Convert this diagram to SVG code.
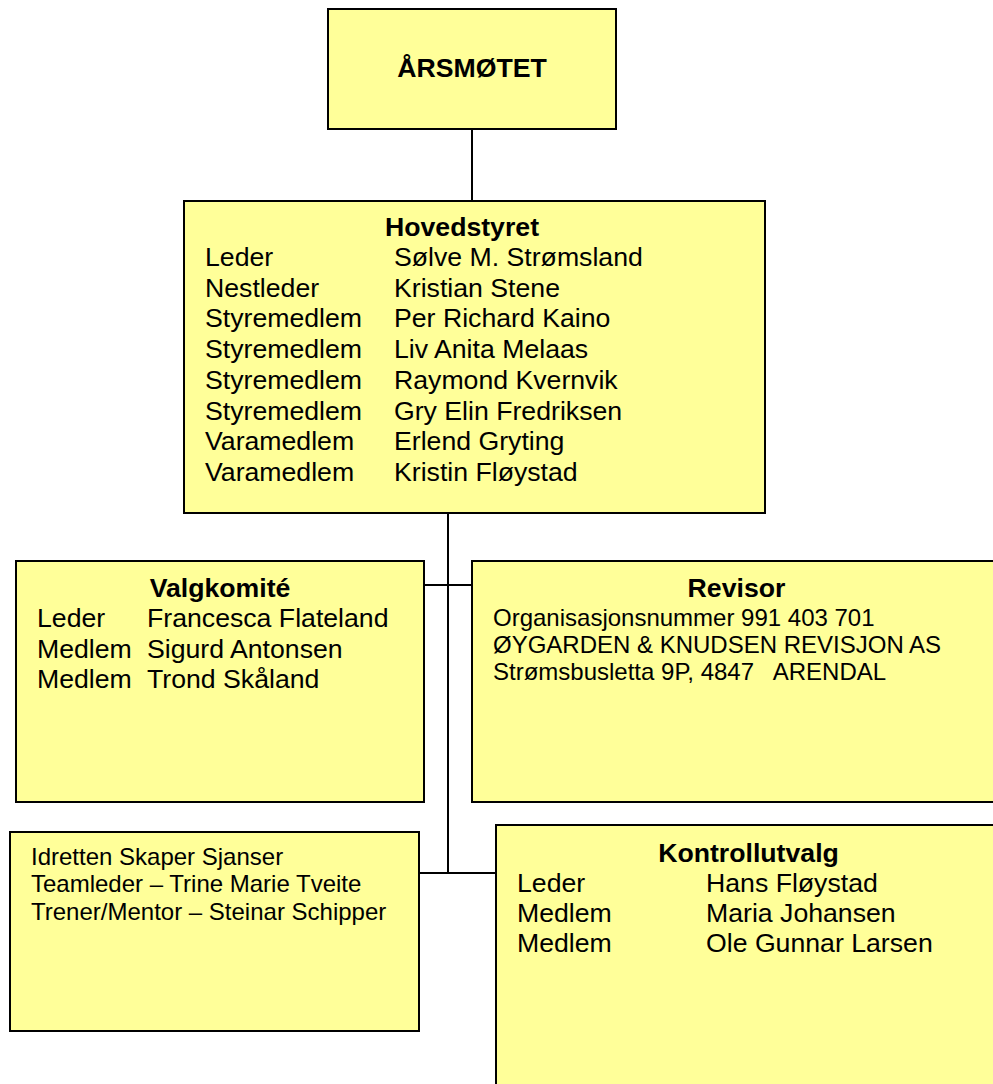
<svg xmlns="http://www.w3.org/2000/svg" width="993" height="1084" viewBox="0 0 993 1084">
<style>
.box{fill:#FFFF99;stroke:#000;stroke-width:2}
.t{font-family:"Liberation Sans",Arial,sans-serif;font-size:26.67px;fill:#000}
.s{font-family:"Liberation Sans",Arial,sans-serif;font-size:24px;fill:#000}
.b{font-weight:bold}
.c{text-anchor:middle}
.con{stroke:#000;stroke-width:2;fill:none}
</style>
<rect width="993" height="1084" fill="#fff"/>
<g id="connectors">
<line class="con" x1="472" y1="129" x2="472" y2="201"/>
<line class="con" x1="448" y1="513" x2="448" y2="873"/>
<line class="con" x1="424" y1="585" x2="472" y2="585"/>
<line class="con" x1="419" y1="873" x2="496" y2="873"/>
</g>
<g id="arsmotet">
<rect class="box" x="328" y="9" width="288" height="120"/>
<text class="t b c" x="472" y="77">ÅRSMØTET</text>
</g>
<g id="hovedstyret">
<rect class="box" x="184" y="201" width="581" height="312"/>
<text class="t b c" x="462" y="236">Hovedstyret</text>
<text class="t" x="205" y="266">Leder</text><text class="t" x="394" y="266">Sølve M. Strømsland</text>
<text class="t" x="205" y="296.7">Nestleder</text><text class="t" x="394" y="296.7">Kristian Stene</text>
<text class="t" x="205" y="327.4">Styremedlem</text><text class="t" x="394" y="327.4">Per Richard Kaino</text>
<text class="t" x="205" y="358.1">Styremedlem</text><text class="t" x="394" y="358.1">Liv Anita Melaas</text>
<text class="t" x="205" y="388.8">Styremedlem</text><text class="t" x="394" y="388.8">Raymond Kvernvik</text>
<text class="t" x="205" y="419.5">Styremedlem</text><text class="t" x="394" y="419.5">Gry Elin Fredriksen</text>
<text class="t" x="205" y="450.2">Varamedlem</text><text class="t" x="394" y="450.2">Erlend Gryting</text>
<text class="t" x="205" y="481">Varamedlem</text><text class="t" x="394" y="481">Kristin Fløystad</text>
</g>
<g id="valgkomite">
<rect class="box" x="16" y="561" width="408" height="241"/>
<text class="t b c" x="220" y="597">Valgkomité</text>
<text class="t" x="37" y="627">Leder</text><text class="t" x="147" y="627">Francesca Flateland</text>
<text class="t" x="37" y="657.5">Medlem</text><text class="t" x="147" y="657.5">Sigurd Antonsen</text>
<text class="t" x="37" y="688.3">Medlem</text><text class="t" x="147" y="688.3">Trond Skåland</text>
</g>
<g id="revisor">
<rect class="box" x="472" y="561" width="529" height="241"/>
<text class="t b c" x="736.5" y="597">Revisor</text>
<text class="s" x="493" y="626">Organisasjonsnummer 991 403 701</text>
<text class="s" x="493" y="653">ØYGARDEN &amp; KNUDSEN REVISJON AS</text>
<text class="s" x="493" y="680" xml:space="preserve">Strømsbusletta 9P, 4847   ARENDAL</text>
</g>
<g id="idretten">
<rect class="box" x="10" y="832" width="409" height="199"/>
<text class="s" x="31" y="864.5">Idretten Skaper Sjanser</text>
<text class="s" x="31" y="892">Teamleder – Trine Marie Tveite</text>
<text class="s" x="31" y="919.5">Trener/Mentor – Steinar Schipper</text>
</g>
<g id="kontrollutvalg">
<rect class="box" x="496" y="825" width="505" height="270"/>
<text class="t b c" x="748.5" y="862">Kontrollutvalg</text>
<text class="t" x="517" y="891.5">Leder</text><text class="t" x="706" y="891.5">Hans Fløystad</text>
<text class="t" x="517" y="921.5">Medlem</text><text class="t" x="706" y="921.5">Maria Johansen</text>
<text class="t" x="517" y="952">Medlem</text><text class="t" x="706" y="952">Ole Gunnar Larsen</text>
</g>
</svg>
